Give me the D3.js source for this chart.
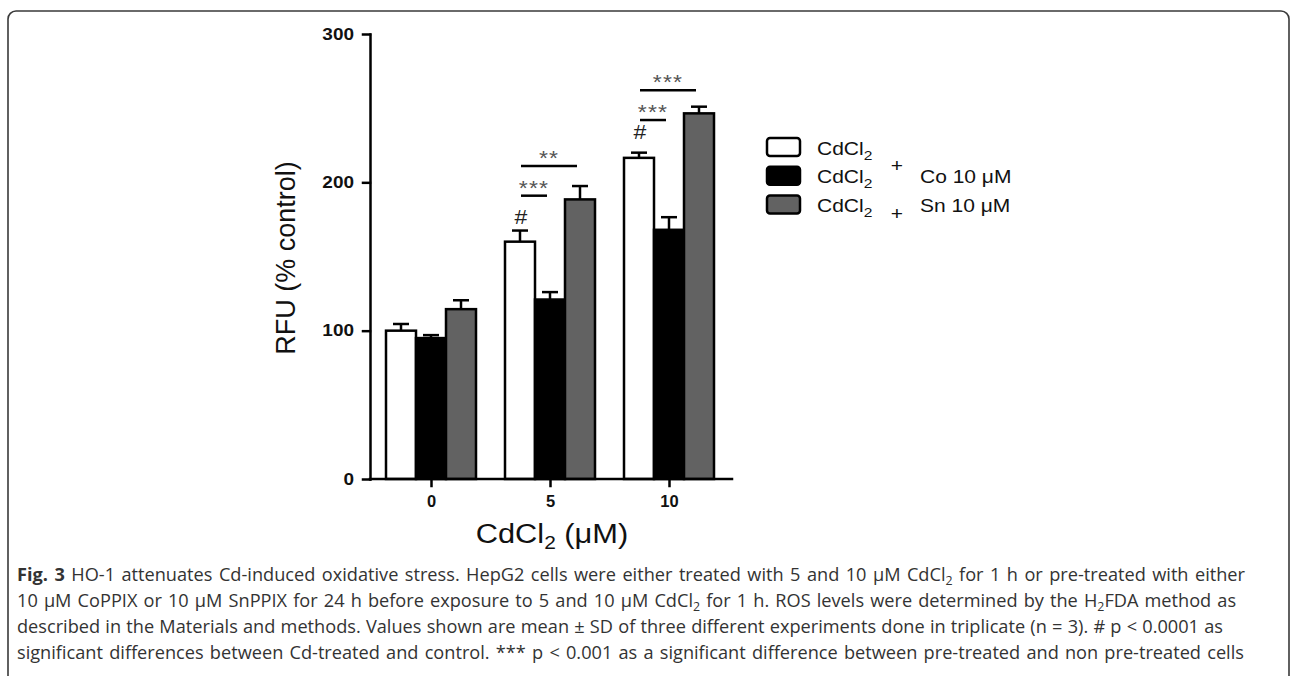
<!DOCTYPE html>
<html lang="en">
<head>
<meta charset="utf-8">
<title>HO-1 attenuates Cd-induced oxidative stress</title>
<script src="https://d3js.org/d3.v7.min.js"></script>
<style>
  body { margin: 0; background: #fff; }
  svg { display: block; }
</style>
</head>
<body>
<div id="chart"></div>
<script>
// ---- data ----
const doses = ["0", "5", "10"];
const seriesNames = ["CdCl2", "CdCl2 + Co 10 μM", "CdCl2 + Sn 10 μM"];
const cdValues = [100, 160, 216.5];
const cdErrors = [4.5, 7.5, 3.5];
const coValues = [95, 121, 168];
const coErrors = [2, 5, 8.5];
const snValues = [114.5, 188.5, 246.5];
const snErrors = [6, 9, 4.5];
const yTicks = [0, 100, 200, 300];
// "#" marks over the CdCl2 bars (y = value at the glyph baseline)
const hashMarks = [{dose: "5", y: 172}, {dose: "10", y: 229}];
// significance bars, from/to are series indexes
const sigBars = [
  {dose: "5", from: 0, to: 1, y: 191, label: "***"},
  {dose: "5", from: 0, to: 2, y: 211, label: "**"},
  {dose: "10", from: 0, to: 1, y: 242, label: "***"},
  {dose: "10", from: 0, to: 2, y: 262, label: "***"}
];
const legendNames = ["", "Co 10 μM", "Sn 10 μM"];
const captionLines = [
  [{t: "Fig. 3", b: true}, {t: " HO-1 attenuates Cd-induced oxidative stress. HepG2 cells were either treated with 5 and 10 μM CdCl"}, {t: "2", sub: true}, {t: " for 1 h or pre-treated with either"}],
  [{t: "10 μM CoPPIX or 10 μM SnPPIX for 24 h before exposure to 5 and 10 μM CdCl"}, {t: "2", sub: true}, {t: " for 1 h. ROS levels were determined by the H"}, {t: "2", sub: true}, {t: "FDA method as"}],
  [{t: "described in the Materials and methods. Values shown are mean ± SD of three different experiments done in triplicate (n = 3). # p < 0.0001 as"}],
  [{t: "significant differences between Cd-treated and control. *** p < 0.001 as a significant difference between pre-treated and non pre-treated cells"}]
];

const series = [
  {name: seriesNames[0], values: cdValues, errors: cdErrors, fill: "#ffffff"},
  {name: seriesNames[1], values: coValues, errors: coErrors, fill: "#000000"},
  {name: seriesNames[2], values: snValues, errors: snErrors, fill: "#626262"}
];

const W = 1290, H = 676;
const SX = 1.15;          // the figure's lettering is a bit wide
const font = "'Liberation Sans', Arial, sans-serif";

const svg = d3.select("#chart").append("svg")
    .attr("width", W)
    .attr("height", H);

// frame of the figure panel
svg.append("rect")
    .attr("x", 8).attr("y", 11)
    .attr("width", 1281).attr("height", 720)
    .attr("rx", 8).attr("ry", 8)
    .attr("fill", "none")
    .attr("stroke", "#3a3a3a")
    .attr("stroke-width", 1.6);

let y = d3.scaleLinear().domain([0, 300]).range([479, 34]);
let x = d3.scalePoint().domain(doses).range([371.5, 728.5]).padding(0.5);
let xs = d3.scaleBand().domain(d3.range(series.length)).range([-45, 45]);

function barCenter(dose, i) {
    return x(dose) + xs(i) + xs.bandwidth() / 2;
}

let plot = svg.append("g");

// bars
series.forEach((s, i) => {
    plot.selectAll(null)
        .data(doses)
        .join("rect")
        .attr("x", d => x(d) + xs(i))
        .attr("y", (d, j) => y(s.values[j]))
        .attr("width", xs.bandwidth())
        .attr("height", (d, j) => y(0) - y(s.values[j]))
        .attr("fill", s.fill)
        .attr("stroke", "#000")
        .attr("stroke-width", 2.5);
});

// upper error bars
series.forEach((s, i) => {
    let eb = plot.selectAll(null)
        .data(doses)
        .join("g")
        .attr("stroke", "#000")
        .attr("stroke-width", 2.5);
    eb.append("line")
        .attr("x1", d => barCenter(d, i))
        .attr("x2", d => barCenter(d, i))
        .attr("y1", (d, j) => y(s.values[j]))
        .attr("y2", (d, j) => y(s.values[j] + s.errors[j]));
    eb.append("line")
        .attr("x1", d => barCenter(d, i) - 8)
        .attr("x2", d => barCenter(d, i) + 8)
        .attr("y1", (d, j) => y(s.values[j] + s.errors[j]))
        .attr("y2", (d, j) => y(s.values[j] + s.errors[j]));
});

// axes
let yAxis = svg.append("g")
    .attr("transform", "translate(370,0)")
    .call(d3.axisLeft(y).tickValues(yTicks).tickSize(7).tickSizeOuter(0).tickPadding(9));

let xAxis = svg.append("g")
    .attr("transform", "translate(0," + y(0) + ")")
    .call(d3.axisBottom(x).tickSize(7).tickSizeOuter(0).tickPadding(9));
xAxis.select(".domain").remove();
xAxis.append("line")
    .attr("x1", 370).attr("x2", 732)
    .attr("stroke", "#000");

[yAxis, xAxis].forEach(ax => {
    ax.selectAll("path, line")
        .attr("stroke", "#000")
        .attr("stroke-width", 2.5)
        .attr("stroke-linecap", "square");
    ax.selectAll("text")
        .attr("fill", "#111")
        .style("font-family", font)
        .style("font-size", "16.5px")
        .style("font-weight", "bold");
});
yAxis.selectAll(".tick text").attr("transform", "scale(" + SX + ",1)")
    .attr("x", function() { return +d3.select(this).attr("x") / SX; });

// y label
svg.append("text")
    .attr("transform", "translate(295,258) rotate(-90)")
    .attr("text-anchor", "middle")
    .style("font-family", font)
    .style("font-size", "27px")
    .attr("fill", "#111")
    .text("RFU (% control)");

// x label
let xl = svg.append("text")
    .attr("transform", "translate(552,543) scale(1.1,1)")
    .attr("text-anchor", "middle")
    .style("font-family", font)
    .style("font-size", "28px")
    .attr("fill", "#111");
xl.append("tspan").text("CdCl");
xl.append("tspan").attr("dy", 6).style("font-size", "19px").text("2");
xl.append("tspan").attr("dy", -6).text(" (μM)");

// significance marks
sigBars.forEach(s => {
    let x1 = barCenter(s.dose, s.from) + 1,
        x2 = barCenter(s.dose, s.to) - 3;
    plot.append("line")
        .attr("x1", x1).attr("x2", x2)
        .attr("y1", y(s.y)).attr("y2", y(s.y))
        .attr("stroke", "#000")
        .attr("stroke-width", 2.5);
    plot.append("text")
        .attr("transform", "translate(" + ((x1 + x2) / 2) + "," + (y(s.y) - 1) + ") scale(" + SX + ",1)")
        .attr("text-anchor", "middle")
        .style("font-family", font)
        .style("font-size", "20px")
        .style("letter-spacing", "1px")
        .attr("fill", "#555")
        .text(s.label);
});

hashMarks.forEach(h => {
    plot.append("text")
        .attr("transform", "translate(" + (barCenter(h.dose, 0) + 1) + "," + y(h.y) + ") scale(" + SX + ",1)")
        .attr("text-anchor", "middle")
        .style("font-family", font)
        .style("font-size", "20px")
        .attr("fill", "#222")
        .text("#");
});

// legend
const plusShift = [null, -11.5, 7.5];
let legend = svg.append("g").attr("transform", "translate(767,147)");
series.forEach((s, i) => {
    let row = legend.append("g").attr("transform", "translate(0," + (i * 28.8) + ")");
    row.append("rect")
        .attr("x", 0).attr("y", -9)
        .attr("width", 33).attr("height", 18)
        .attr("rx", 3)
        .attr("fill", s.fill)
        .attr("stroke", "#000")
        .attr("stroke-width", 2.5);
    let t = row.append("text")
        .attr("transform", "translate(50,7.5) scale(1.2,1)")
        .style("font-family", font)
        .style("font-size", "17.5px")
        .attr("fill", "#111");
    t.append("tspan").text("CdCl");
    t.append("tspan").attr("dy", 5).style("font-size", "13px").text("2");
    if (legendNames[i]) {
        row.append("text")
            .attr("transform", "translate(130," + (7.5 + plusShift[i]) + ") scale(1.2,1)")
            .attr("text-anchor", "middle")
            .style("font-family", font)
            .style("font-size", "17.5px")
            .attr("fill", "#111")
            .text("+");
        row.append("text")
            .attr("transform", "translate(153,7.5) scale(1.2,1)")
            .style("font-family", font)
            .style("font-size", "17.5px")
            .attr("fill", "#111")
            .text(legendNames[i]);
    }
});

// caption
const captionLeft = 17;
const captionRight = [1245, 1236, 1223, 1244];
const baseSize = 16;
let capTexts = captionLines.map((segs, li) => {
    let t = svg.append("text")
        .attr("x", captionLeft)
        .attr("y", 581 + li * 26)
        .style("font-family", "'Open Sans', sans-serif")
        .style("font-size", baseSize + "px")
        .attr("fill", "#333");
    let shifted = false;
    segs.forEach(sg => {
        let ts = t.append("tspan").text(sg.t);
        if (sg.b) ts.style("font-weight", "bold");
        if (sg.sub) {
            ts.attr("dy", 4).attr("class", "sub");
            shifted = true;
        } else if (shifted) {
            ts.attr("dy", -4);
            shifted = false;
        }
    });
    return t;
});
capTexts.forEach(t => t.selectAll(".sub").style("font-size", (baseSize * 0.68) + "px"));
// size the caption so the widest line fits its measure, then spread words
let fit = d3.min(capTexts, (t, li) => (captionRight[li] - captionLeft) / t.node().getComputedTextLength());
let capSize = baseSize * fit * 0.99;
capTexts.forEach((t, li) => {
    t.style("font-size", capSize + "px");
    t.selectAll(".sub").style("font-size", (capSize * 0.68) + "px");
    let full = captionLines[li].map(d => d.t).join("");
    let spaces = (full.match(/ /g) || []).length;
    let len = t.node().getComputedTextLength();
    t.attr("word-spacing", ((captionRight[li] - captionLeft - len) / spaces).toFixed(2));
});
</script>
</body>
</html>
